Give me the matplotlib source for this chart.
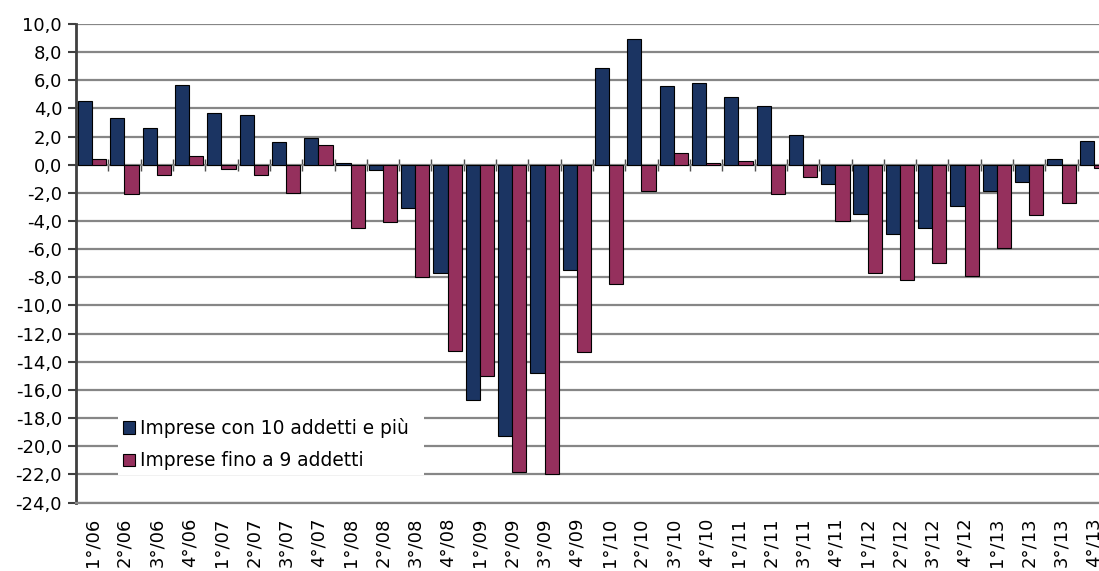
import numpy as np
import matplotlib
matplotlib.use("Agg")
import matplotlib.pyplot as plt
import matplotlib.ticker as ticker

# dati
trimestri = ["1°/06", "2°/06", "3°/06", "4°/06", "1°/07", "2°/07", "3°/07", "4°/07",
             "1°/08", "2°/08", "3°/08", "4°/08", "1°/09", "2°/09", "3°/09", "4°/09",
             "1°/10", "2°/10", "3°/10", "4°/10", "1°/11", "2°/11", "3°/11", "4°/11",
             "1°/12", "2°/12", "3°/12", "4°/12", "1°/13", "2°/13", "3°/13", "4°/13"]
grandi = [4.5, 3.3, 2.6, 5.7, 3.7, 3.5, 1.6, 1.9,
          0.1, -0.4, -3.1, -7.7, -16.7, -19.3, -14.8, -7.5,
          6.9, 8.9, 5.6, 5.8, 4.8, 4.2, 2.1, -1.4,
          -3.5, -4.9, -4.5, -2.9, -1.9, -1.2, 0.4, 1.7]
piccole = [0.4, -2.1, -0.7, 0.6, -0.3, -0.7, -2.0, 1.4,
           -4.5, -4.1, -8.0, -13.2, -15.0, -21.8, -22.0, -13.3,
           -8.5, -1.9, 0.8, 0.1, 0.3, -2.1, -0.9, -4.0,
           -7.7, -8.2, -7.0, -7.9, -5.9, -3.6, -2.7, -0.2]
nomi = ["Imprese con 10 addetti e più", "Imprese fino a 9 addetti"]

plt.rcParams['font.family'] = ['DejaVu Sans']
plt.rcParams['font.size'] = 13

fig = plt.figure(figsize=(10.99, 5.71), dpi=100)
ax = fig.add_axes([76/1099, 68.5/571, 1034/1099, 478.5/571])

x = np.arange(len(trimestri))
w = 0.44
ax.bar(x - w/2, grandi, w, color='#1b3462', edgecolor='black', linewidth=0.8, label=nomi[0], zorder=3)
ax.bar(x + w/2, piccole, w, color='#95305d', edgecolor='black', linewidth=0.8, label=nomi[1], zorder=3)

ymin, ymax = -24, 10
ax.set_ylim(ymin, ymax)
ax.set_xlim(-0.5, len(trimestri) - 0.5)
ax.yaxis.set_major_locator(ticker.MultipleLocator(2))
ax.yaxis.set_major_formatter(ticker.FuncFormatter(lambda v, p: f"{v:.1f}".replace('.', ',')))
ax.grid(axis='y', color='#868686', linewidth=1.6)
ax.set_axisbelow(True)

ax.set_xticks(x)
ax.set_xticklabels(trimestri, rotation=90)
ax.tick_params(axis='x', length=0, pad=11)
ax.tick_params(axis='y', length=6, width=1.5, color='#404040', pad=4)

for s in ['top', 'right']:
    ax.spines[s].set_visible(False)
ax.spines['left'].set_color('#404040')
ax.spines['left'].set_linewidth(2)
ax.spines['bottom'].set_color('#868686')
ax.spines['bottom'].set_linewidth(1.6)

# asse delle categorie sullo zero
zero = (0 - ymin) / (ymax - ymin)
sec = ax.secondary_xaxis(zero)
sec.set_xticks(np.arange(0.5, len(trimestri) - 1, 1))
sec.tick_params(direction='inout', length=8, width=1, color='#505050', labeltop=False, labelbottom=False)
sec.spines['top'].set_color('#303030')
sec.spines['top'].set_linewidth(1.2)
sec.spines['bottom'].set_color('#303030')
sec.spines['bottom'].set_linewidth(1.2)

leg = ax.legend(loc='lower left', bbox_to_anchor=(0.0406, 0.0575, 0.296, 0.12), mode='expand',
                frameon=True, fancybox=False, fontsize=13.4,
                edgecolor='white', framealpha=1, handlelength=0.65, handleheight=0.65,
                handletextpad=0.27, labelspacing=0.72, borderpad=0.25, borderaxespad=0)
leg.get_frame().set_linewidth(0)

fig.savefig("out.png", dpi=100)
